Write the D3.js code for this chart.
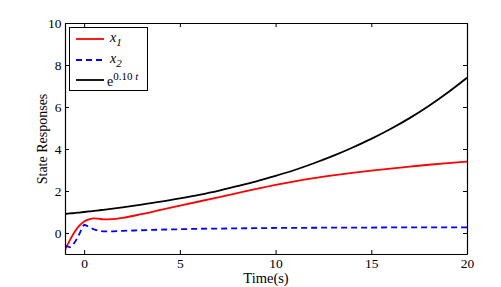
<!DOCTYPE html>
<html>
<head>
<meta charset="utf-8">
<script src="https://cdn.jsdelivr.net/npm/d3@7"></script>
<style>
  body { margin: 0; background: #fff; }
  text { font-family: "Liberation Serif", "Times New Roman", serif; fill: #000; }
</style>
</head>
<body>
<svg id="chart"></svg>
<script>
var times = [-1, -0.75, -0.5, -0.25, 0, 0.25, 0.5, 0.75, 1, 1.5, 2, 3, 4, 5, 6, 7, 8, 9, 10,
  11, 12, 13, 14, 15, 16, 17, 18, 19, 20];
var x1 = [-0.8, -0.35, 0.05, 0.35, 0.55, 0.65, 0.7, 0.68, 0.65, 0.66, 0.72, 0.9, 1.1, 1.3, 1.5,
  1.7, 1.9, 2.1, 2.29, 2.46, 2.61, 2.74, 2.86, 2.97, 3.07, 3.16, 3.25, 3.33, 3.4];
var x2 = [-0.6, -0.67, -0.45, -0.05, 0.38, 0.3, 0.18, 0.11, 0.08, 0.08, 0.1, 0.13, 0.16, 0.18, 0.2,
  0.21, 0.22, 0.23, 0.24, 0.245, 0.25, 0.255, 0.26, 0.26, 0.265, 0.265, 0.27, 0.27, 0.27];
var bound = [0.905, 0.93, 0.95, 0.975, 1, 1.025, 1.05, 1.08, 1.105, 1.16, 1.22, 1.35, 1.49, 1.65,
  1.82, 2.01, 2.23, 2.46, 2.72, 3.0, 3.32, 3.67, 4.06, 4.48, 4.95, 5.47, 6.05, 6.69, 7.39];
var xTicks = [0, 5, 10, 15, 20];
var yTicks = [0, 2, 4, 6, 8, 10];

var width = 501, height = 287;
var margin = { left: 65, top: 23, right: 34, bottom: 33 };
var serif = "'Liberation Serif', 'Times New Roman', serif";

var svg = d3.select("#chart").attr("width", width).attr("height", height);

var x = d3.scaleLinear().domain([-1, 20]).range([margin.left, width - margin.right]);
var y = d3.scaleLinear().domain([-1, 10]).range([height - margin.bottom, margin.top]);

var series = [
  { vals: x1, color: "#ff0000", dash: null },
  { vals: x2, color: "#0000ff", dash: "6,4" },
  { vals: bound, color: "#000000", dash: null }
];

var line = d3.line()
  .x(function (d) { return x(d[0]); })
  .y(function (d) { return y(d[1]); })
  .curve(d3.curveMonotoneX);

svg.append("defs").append("clipPath").attr("id", "clip")
  .append("rect")
  .attr("x", margin.left).attr("y", margin.top)
  .attr("width", width - margin.left - margin.right)
  .attr("height", height - margin.top - margin.bottom);

var plot = svg.append("g").attr("clip-path", "url(#clip)");
series.forEach(function (s) {
  plot.append("path")
    .datum(times.map(function (t, i) { return [t, s.vals[i]]; }))
    .attr("d", line)
    .attr("fill", "none")
    .attr("stroke", s.color)
    .attr("stroke-width", 1.8)
    .attr("stroke-dasharray", s.dash);
});

// axes with inward ticks, box style
var axBottom = svg.append("g")
  .attr("transform", "translate(0," + (height - margin.bottom) + ")")
  .call(d3.axisBottom(x).tickValues(xTicks).tickSizeInner(-4).tickSizeOuter(0).tickPadding(4));
var axTop = svg.append("g")
  .attr("transform", "translate(0," + margin.top + ")")
  .call(d3.axisTop(x).tickValues(xTicks).tickSizeInner(-4).tickSizeOuter(0).tickFormat(""));
var axLeft = svg.append("g")
  .attr("transform", "translate(" + margin.left + ",0)")
  .call(d3.axisLeft(y).tickValues(yTicks).tickSizeInner(-4).tickSizeOuter(0).tickPadding(3.5));
var axRight = svg.append("g")
  .attr("transform", "translate(" + (width - margin.right) + ",0)")
  .call(d3.axisRight(y).tickValues(yTicks).tickSizeInner(-4).tickSizeOuter(0).tickFormat(""));

[axBottom, axTop, axLeft, axRight].forEach(function (a) {
  a.attr("font-family", serif).attr("font-size", 13.5);
  a.select(".domain").attr("stroke", "#000").attr("stroke-width", 1.2);
  a.selectAll(".tick line").attr("stroke", "#000");
  a.selectAll(".tick text").attr("fill", "#000");
});

svg.append("text")
  .attr("x", 266).attr("y", 283)
  .attr("text-anchor", "middle")
  .style("font-size", "14.5px")
  .text("Time(s)");

svg.append("text")
  .attr("transform", "translate(47,139) rotate(-90)")
  .attr("text-anchor", "middle")
  .style("font-size", "14px")
  .text("State Responses");

// legend
var lg = svg.append("g");
lg.append("rect")
  .attr("x", 69.5).attr("y", 27.5).attr("width", 78).attr("height", 63)
  .attr("fill", "#fff").attr("stroke", "#000").attr("stroke-width", 1);
var rows = [39, 60, 80];
series.forEach(function (s, i) {
  lg.append("line")
    .attr("x1", 76).attr("x2", 104).attr("y1", rows[i]).attr("y2", rows[i])
    .attr("stroke", s.color).attr("stroke-width", 1.8)
    .attr("stroke-dasharray", s.dash);
});
var l1 = lg.append("text").attr("x", 110).attr("y", 42).style("font-size", "14px");
l1.append("tspan").style("font-style", "italic").text("x");
l1.append("tspan").attr("dy", 3.5).style("font-size", "11px").style("font-style", "italic").text("1");
var l2 = lg.append("text").attr("x", 110).attr("y", 63).style("font-size", "14px");
l2.append("tspan").style("font-style", "italic").text("x");
l2.append("tspan").attr("dy", 3.5).style("font-size", "11px").style("font-style", "italic").text("2");
var l3 = lg.append("text").attr("x", 107).attr("y", 86).style("font-size", "14px");
l3.append("tspan").text("e");
l3.append("tspan").attr("dy", -6.5).style("font-size", "11px").text("0.10 ");
l3.append("tspan").style("font-size", "11px").style("font-style", "italic").text("t");
</script>
</body>
</html>
